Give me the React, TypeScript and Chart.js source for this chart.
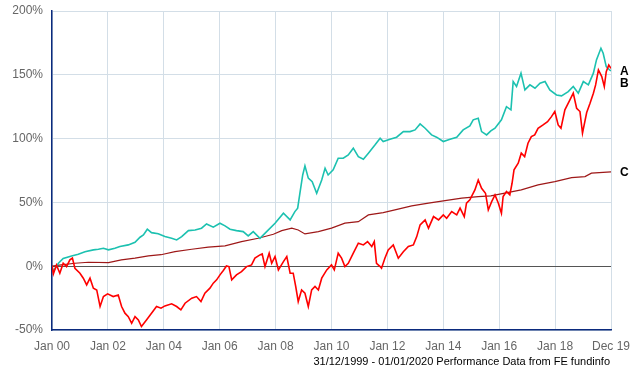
import React, { useEffect, useRef } from "react";
import { Chart, registerables } from "chart.js";

Chart.register(...registerables);

// Tick labels (x axis values are years since 31/12/1999)
const xTickYears = [0, 2, 4, 6, 8, 10, 12, 14, 16, 18, 20];
const xTickLabels = ["Jan 00", "Jan 02", "Jan 04", "Jan 06", "Jan 08", "Jan 10", "Jan 12", "Jan 14", "Jan 16", "Jan 18", "Dec 19"];
const yTickValues = [-50, 0, 50, 100, 150, 200];

// Series A (teal)
const aYears = [0, 0.05, 0.23, 0.4, 0.7, 0.94, 1.18, 1.48, 1.66, 1.84, 2.02, 2.25, 2.43, 2.73, 2.97, 3.15, 3.27, 3.41, 3.56, 3.8, 4.04, 4.28, 4.46, 4.64, 4.88, 5.12, 5.35, 5.53, 5.77, 6.01, 6.19, 6.37, 6.6, 6.84, 7.02, 7.2, 7.44, 7.68, 7.98, 8.28, 8.52, 8.69, 8.79, 8.87, 8.97, 9.05, 9.17, 9.31, 9.47, 9.65, 9.77, 9.88, 10.06, 10.24, 10.42, 10.6, 10.78, 10.96, 11.14, 11.32, 11.56, 11.74, 11.85, 12.09, 12.33, 12.57, 12.81, 12.99, 13.17, 13.35, 13.58, 13.76, 14.0, 14.24, 14.48, 14.71, 14.95, 15.07, 15.25, 15.37, 15.55, 15.7, 15.85, 16.08, 16.26, 16.42, 16.5, 16.62, 16.78, 16.92, 17.1, 17.28, 17.46, 17.64, 17.81, 18.05, 18.23, 18.47, 18.65, 18.83, 19.01, 19.19, 19.37, 19.48, 19.64, 19.72, 19.83, 19.95, 20];
const aValues = [0, -4, 2.3, 6, 8, 9.4, 11.4, 12.8, 13.3, 14, 12.8, 14, 15.4, 16.7, 18.8, 22.7, 24.5, 29, 26.3, 25.5, 23.2, 21.9, 20.6, 23.2, 27.9, 28.4, 29.8, 33.1, 30.6, 33.7, 31.6, 29, 27.9, 27.1, 23.7, 27.1, 21.9, 27.1, 33.7, 41.5, 36.3, 42.8, 45.5, 57.2, 71.5, 78.6, 69, 66.3, 57.2, 67.6, 76.8, 71.5, 75.5, 84.6, 84.6, 87.2, 92.5, 85.9, 83.9, 88.6, 95.1, 100.3, 97.7, 99.5, 101.1, 105.5, 105.5, 106.8, 111.5, 108.1, 102.9, 101.1, 97.7, 99.5, 101.1, 106.8, 110, 114.7, 116, 105.5, 102.9, 106, 108.1, 114.7, 125, 122.5, 144.7, 140.8, 151.3, 138.2, 142.1, 139.5, 143.4, 144.7, 138.2, 134.2, 133.5, 136.8, 140.8, 135.6, 144.7, 142.1, 151.3, 161.7, 170.8, 166.9, 156.4, 153.8, 153];

// Series B (red)
const bYears = [0, 0.05, 0.16, 0.28, 0.4, 0.52, 0.64, 0.73, 0.82, 1.0, 1.12, 1.24, 1.36, 1.48, 1.6, 1.72, 1.84, 1.99, 2.19, 2.37, 2.49, 2.61, 2.73, 2.85, 2.97, 3.09, 3.2, 3.38, 3.56, 3.74, 3.9, 4.04, 4.28, 4.46, 4.61, 4.76, 5.0, 5.17, 5.33, 5.47, 5.65, 5.77, 5.89, 6.01, 6.13, 6.24, 6.33, 6.43, 6.6, 6.78, 6.96, 7.14, 7.26, 7.44, 7.52, 7.62, 7.77, 7.86, 7.98, 8.1, 8.28, 8.4, 8.52, 8.63, 8.72, 8.81, 8.93, 9.05, 9.17, 9.29, 9.41, 9.53, 9.65, 9.83, 10.0, 10.1, 10.24, 10.36, 10.48, 10.6, 10.78, 10.96, 11.14, 11.29, 11.44, 11.53, 11.61, 11.74, 11.79, 11.91, 12.03, 12.21, 12.39, 12.57, 12.75, 12.93, 13.05, 13.17, 13.35, 13.47, 13.65, 13.83, 14.0, 14.12, 14.3, 14.48, 14.6, 14.75, 14.83, 14.95, 15.13, 15.25, 15.37, 15.51, 15.61, 15.73, 15.85, 15.97, 16.08, 16.14, 16.26, 16.38, 16.46, 16.53, 16.68, 16.79, 16.91, 17.03, 17.15, 17.27, 17.39, 17.57, 17.73, 17.87, 17.99, 18.11, 18.21, 18.35, 18.53, 18.65, 18.77, 18.89, 18.98, 19.13, 19.25, 19.37, 19.45, 19.55, 19.67, 19.76, 19.83, 19.92, 20];
const bValues = [0, -6, 1, -5.5, 2.3, -0.3, 5, 6.3, -1.6, -5.5, -9.4, -14.7, -9.4, -17.2, -18.6, -31.6, -23.8, -21.7, -23.8, -22.5, -31.6, -36.8, -39.5, -44.7, -39.5, -42.1, -47.3, -42.1, -36.8, -31.6, -32.9, -31.1, -29.5, -31.6, -34.2, -29, -25.1, -23.8, -27.7, -21.2, -17.2, -13.3, -10.7, -6.8, -3.4, 0.2, -0.3, -10.7, -6.8, -4.2, -0.3, 1, 6.3, 8.9, 9.6, -0.3, 10.2, 2.3, 7.5, -2.9, 3.6, 7.5, -5.5, -5.5, -15.9, -27.7, -18.6, -21.2, -31.6, -18.6, -15.9, -18.6, -9.4, -2.9, 1, -2.9, 10.2, 6.3, -0.3, 2.3, 10.2, 18, 16.7, 19.3, 15.4, 19.3, 2.3, -0.3, -1.6, 6.3, 12.8, 16.7, 6.3, 11.4, 15.4, 16.7, 23.2, 32.4, 36.3, 29.8, 38.9, 36.3, 40.2, 37.6, 42.8, 40.2, 45.5, 38.9, 49.4, 52, 59.8, 67.6, 61.1, 57.2, 44.1, 50.6, 55.9, 49.4, 41.5, 54.6, 58.5, 55.9, 65, 75.5, 80.7, 88.6, 85.9, 96.4, 101.6, 102.9, 108.1, 110.7, 113.3, 117.2, 121.2, 110.7, 108.1, 122.5, 130.3, 135.6, 123.8, 121.2, 104.2, 120.4, 127.7, 135.6, 142.1, 153.8, 148.6, 140.8, 152.5, 157.7, 155];

// Series C (dark red)
const cYears = [0, 0.33, 0.82, 1.3, 2.02, 2.48, 2.97, 3.45, 3.9, 4.4, 5.0, 5.59, 6.19, 6.78, 7.38, 7.92, 8.22, 8.58, 8.81, 9.05, 9.53, 10.0, 10.48, 10.96, 11.32, 11.85, 12.27, 12.87, 13.47, 14.06, 14.66, 15.25, 15.7, 16.2, 16.79, 17.39, 17.99, 18.59, 19.07, 19.3, 20];
const cValues = [0, 1, 2.3, 3.1, 2.8, 4.9, 6.3, 8.1, 9, 11.4, 13.3, 14.9, 15.9, 19.3, 21.9, 25, 27.9, 29.8, 28.4, 25.3, 27.1, 29.8, 33.7, 34.9, 40.2, 42, 44.1, 47.3, 49.4, 51.4, 53.3, 54.6, 55.1, 57.2, 59.8, 63.7, 66.3, 69.4, 70.2, 72.9, 74];

const seriesNames = ["A", "B", "C"];
const caption = "31/12/1999 - 01/01/2020 Performance Data from FE fundinfo";

const toPoints = (xs: number[], ys: number[]) => xs.map((x, i) => ({ x, y: ys[i] }));

const NAVY = "#0b2a7d";
const GRID = "#d3dee7";
const ZERO = "#555555";
const TICK = "#666666";
const FONT = "'Liberation Sans', Arial, sans-serif";

const endLabels = {
  id: "endLabels",
  afterDatasetsDraw(chart: any) {
    const { ctx, scales } = chart;
    const ys: number[] = [];
    chart.data.datasets.forEach((ds: any, i: number) => {
      const last = ds.data[ds.data.length - 1];
      let y = scales.y.getPixelForValue(last.y);
      if (i > 0 && y < ys[i - 1] + 12 && Math.abs(y - ys[i - 1]) < 14) y = ys[i - 1] + 12;
      ys.push(y);
    });
    ctx.save();
    ctx.font = `bold 12px ${FONT}`;
    ctx.fillStyle = "#000";
    ctx.textAlign = "left";
    ctx.textBaseline = "middle";
    chart.data.datasets.forEach((ds: any, i: number) => {
      ctx.fillText(ds.label, chart.chartArea.right + 9, ys[i] + 1);
    });
    ctx.restore();
  },
};

const captionPlugin = {
  id: "caption",
  afterDraw(chart: any) {
    const { ctx } = chart;
    ctx.save();
    ctx.font = `11px ${FONT}`;
    ctx.fillStyle = "#000";
    ctx.textAlign = "right";
    ctx.textBaseline = "middle";
    ctx.fillText(caption, chart.chartArea.right - 1, 362);
    ctx.restore();
  },
};

export default function App() {
  const ref = useRef<HTMLCanvasElement>(null);
  useEffect(() => {
    document.body.style.margin = "0";
    const chart = new Chart(ref.current!, {
      type: "line",
      data: {
        datasets: [
          { label: seriesNames[0], data: toPoints(aYears, aValues), borderColor: "#1cc1b0", borderWidth: 1.6, pointRadius: 0, tension: 0, fill: false, order: 2 },
          { label: seriesNames[1], data: toPoints(bYears, bValues), borderColor: "#ff0000", borderWidth: 1.6, pointRadius: 0, tension: 0, fill: false, order: 1 },
          { label: seriesNames[2], data: toPoints(cYears, cValues), borderColor: "#9e1818", borderWidth: 1.2, pointRadius: 0, tension: 0, fill: false, order: 3 },
        ],
      },
      options: {
        responsive: false,
        animation: false,
        devicePixelRatio: 1,
        layout: { padding: { top: 11, right: 29, left: 0, bottom: 0 } },
        plugins: { legend: { display: false }, tooltip: { enabled: false }, title: { display: false } },
        scales: {
          x: {
            type: "linear",
            min: xTickYears[0],
            max: xTickYears[xTickYears.length - 1],
            afterBuildTicks: (s: any) => {
              s.ticks = xTickYears.map((v) => ({ value: v }));
            },
            afterFit: (s: any) => {
              s.height = 40;
              s.paddingLeft = 0;
              s.paddingRight = 0;
            },
            ticks: {
              autoSkip: false,
              maxRotation: 0,
              padding: 9,
              color: TICK,
              font: { family: FONT, size: 12 },
              callback: (v: any) => xTickLabels[xTickYears.indexOf(Number(v))],
            },
            grid: { color: GRID, drawTicks: false, lineWidth: 1 },
            border: { color: NAVY, width: 1.5 },
          },
          y: {
            type: "linear",
            min: yTickValues[0],
            max: yTickValues[yTickValues.length - 1],
            afterBuildTicks: (s: any) => {
              s.ticks = yTickValues.map((v) => ({ value: v }));
            },
            afterFit: (s: any) => {
              s.width = 52;
              s.paddingTop = 0;
              s.paddingBottom = 0;
            },
            ticks: {
              padding: 9,
              color: TICK,
              font: { family: FONT, size: 12 },
              callback: (v: any) => `${v}%`,
            },
            grid: {
              color: (c: any) => (c.tick && c.tick.value === 0 ? ZERO : GRID),
              drawTicks: false,
              lineWidth: 1,
            },
            border: { color: NAVY, width: 1.5 },
          },
        },
      },
      plugins: [endLabels, captionPlugin],
    });
    return () => chart.destroy();
  }, []);
  return <canvas ref={ref} width={640} height={370} style={{ display: "block" }} />;
}
